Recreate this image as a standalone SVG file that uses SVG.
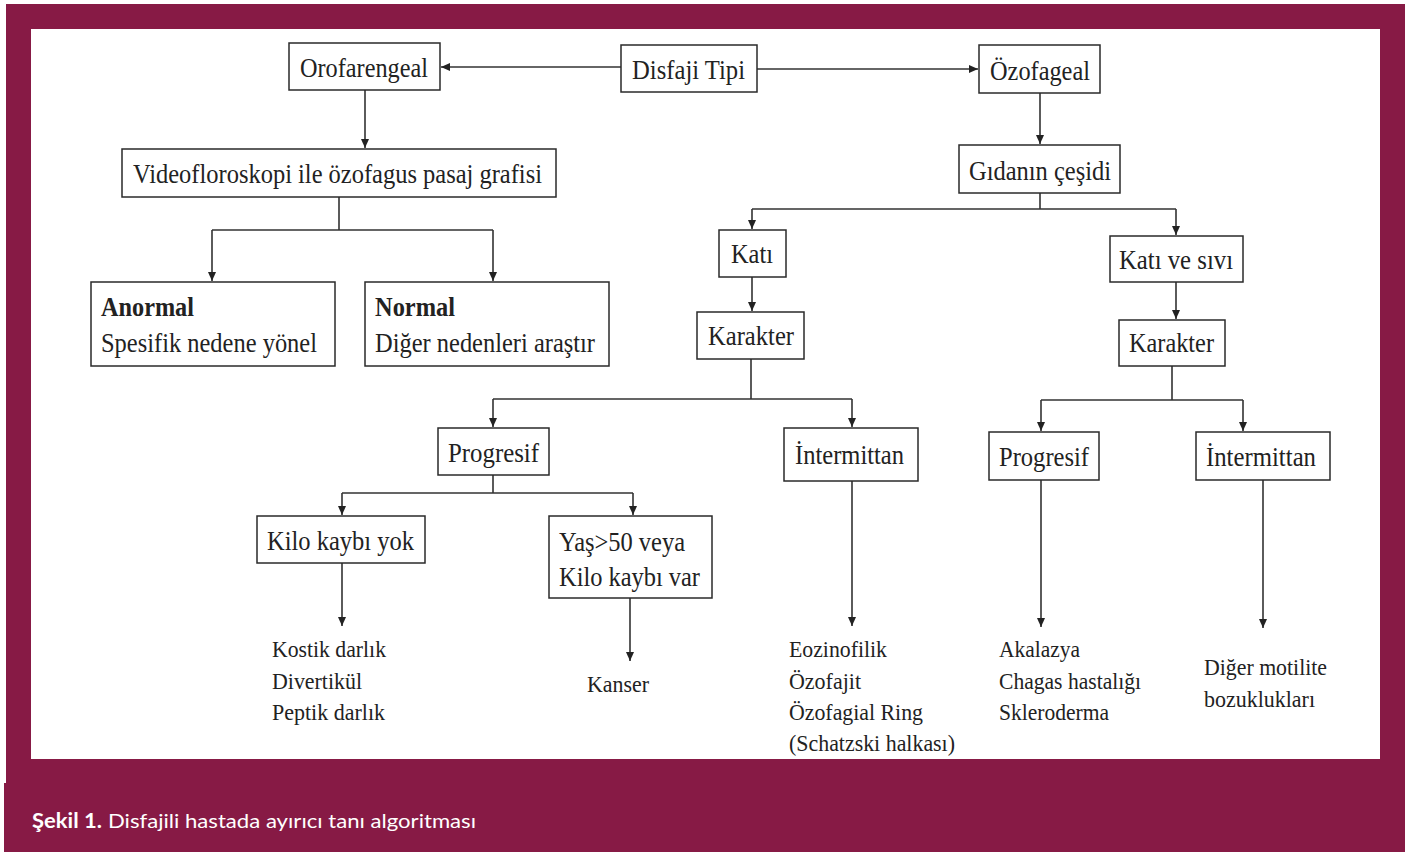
<svg xmlns="http://www.w3.org/2000/svg" width="1418" height="852" viewBox="0 0 1418 852">
  <style>
    .frame { fill: #871a45; }
    .box { fill: #ffffff; stroke: #2a2a2a; stroke-width: 1.5; }
    .t { font-family: "Liberation Serif", "Times New Roman", serif; font-size: 28px; fill: #222222; }
    .b { font-weight: bold; }
    .l { font-family: "Liberation Serif", "Times New Roman", serif; font-size: 24px; fill: #222222; }
    .c { fill: none; stroke: #333333; stroke-width: 1.6; }
    .cap { font-family: Lato, "Open Sans", "Liberation Sans", sans-serif; font-size: 20px; fill: #ffffff; }
  </style>
  <defs>
    <marker id="ah" markerUnits="userSpaceOnUse" markerWidth="10" markerHeight="8" refX="9" refY="4" orient="auto">
      <path d="M0,0 L9,4 L0,8 z" fill="#222222"/>
    </marker>
  </defs>

  <!-- page background and maroon frame -->
  <rect width="1418" height="852" fill="#ffffff"/>
  <rect class="frame" x="6" y="4" width="1399" height="848"/>
  <rect class="frame" x="4" y="783" width="1401" height="69"/>
  <rect x="31" y="29" width="1349" height="730" fill="#ffffff"/>

  <!-- caption -->
  <text class="cap" x="32" y="828"><tspan font-weight="bold" textLength="70" lengthAdjust="spacingAndGlyphs">Şekil 1.</tspan></text>
  <text class="cap" x="108" y="828" textLength="368" lengthAdjust="spacingAndGlyphs">Disfajili hastada ayırıcı tanı algoritması</text>

  <!-- connectors -->
  <g id="connectors">
    <line class="c" x1="621" y1="67" x2="441" y2="67" marker-end="url(#ah)"/>
    <line class="c" x1="757" y1="69" x2="978" y2="69" marker-end="url(#ah)"/>
    <line class="c" x1="365" y1="90" x2="365" y2="148" marker-end="url(#ah)"/>
    <path class="c" d="M339,197 V230 M212,230 H493"/>
    <line class="c" x1="212" y1="230" x2="212" y2="281" marker-end="url(#ah)"/>
    <line class="c" x1="493" y1="230" x2="493" y2="281" marker-end="url(#ah)"/>
    <line class="c" x1="1040" y1="93" x2="1040" y2="144" marker-end="url(#ah)"/>
    <path class="c" d="M1040,193 V209 M752,209 H1176"/>
    <line class="c" x1="752" y1="209" x2="752" y2="229" marker-end="url(#ah)"/>
    <line class="c" x1="1176" y1="209" x2="1176" y2="235" marker-end="url(#ah)"/>
    <line class="c" x1="752" y1="277" x2="752" y2="311" marker-end="url(#ah)"/>
    <line class="c" x1="1176" y1="282" x2="1176" y2="319" marker-end="url(#ah)"/>
    <path class="c" d="M751,359 V399 M493,399 H852"/>
    <line class="c" x1="493" y1="399" x2="493" y2="427" marker-end="url(#ah)"/>
    <line class="c" x1="852" y1="399" x2="852" y2="427" marker-end="url(#ah)"/>
    <path class="c" d="M1172,366 V400 M1041,400 H1243"/>
    <line class="c" x1="1041" y1="400" x2="1041" y2="431" marker-end="url(#ah)"/>
    <line class="c" x1="1243" y1="400" x2="1243" y2="431" marker-end="url(#ah)"/>
    <path class="c" d="M493,475 V493 M342,493 H633"/>
    <line class="c" x1="342" y1="493" x2="342" y2="515" marker-end="url(#ah)"/>
    <line class="c" x1="633" y1="493" x2="633" y2="515" marker-end="url(#ah)"/>
    <line class="c" x1="342" y1="563" x2="342" y2="626" marker-end="url(#ah)"/>
    <line class="c" x1="630" y1="598" x2="630" y2="661" marker-end="url(#ah)"/>
    <line class="c" x1="852" y1="481" x2="852" y2="626" marker-end="url(#ah)"/>
    <line class="c" x1="1041" y1="480" x2="1041" y2="627" marker-end="url(#ah)"/>
    <line class="c" x1="1263" y1="480" x2="1263" y2="628" marker-end="url(#ah)"/>
  </g>

  <!-- nodes -->
  <g id="disfaji-tipi">
    <rect class="box" x="621" y="45" width="136" height="47"/>
    <text class="t" x="632" y="79" textLength="113" lengthAdjust="spacingAndGlyphs">Disfaji Tipi</text>
  </g>
  <g id="orofarengeal">
    <rect class="box" x="289" y="43" width="151" height="47"/>
    <text class="t" x="300" y="77" textLength="128" lengthAdjust="spacingAndGlyphs">Orofarengeal</text>
  </g>
  <g id="ozofageal">
    <rect class="box" x="979" y="45" width="121" height="48"/>
    <text class="t" x="990" y="80" textLength="100" lengthAdjust="spacingAndGlyphs">Özofageal</text>
  </g>
  <g id="videofloroskopi">
    <rect class="box" x="122" y="149" width="434" height="48"/>
    <text class="t" x="133" y="183" textLength="409" lengthAdjust="spacingAndGlyphs">Videofloroskopi ile özofagus pasaj grafisi</text>
  </g>
  <g id="anormal">
    <rect class="box" x="91" y="282" width="244" height="84"/>
    <text class="t b" x="101" y="316" textLength="93" lengthAdjust="spacingAndGlyphs">Anormal</text>
    <text class="t" x="101" y="352" textLength="216" lengthAdjust="spacingAndGlyphs">Spesifik nedene yönel</text>
  </g>
  <g id="normal">
    <rect class="box" x="365" y="282" width="244" height="84"/>
    <text class="t b" x="375" y="316" textLength="80" lengthAdjust="spacingAndGlyphs">Normal</text>
    <text class="t" x="375" y="352" textLength="220" lengthAdjust="spacingAndGlyphs">Diğer nedenleri araştır</text>
  </g>
  <g id="gidanin-cesidi">
    <rect class="box" x="959" y="145" width="161" height="48"/>
    <text class="t" x="969" y="180" textLength="142" lengthAdjust="spacingAndGlyphs">Gıdanın çeşidi</text>
  </g>
  <g id="kati">
    <rect class="box" x="719" y="230" width="67" height="47"/>
    <text class="t" x="731" y="263" textLength="42" lengthAdjust="spacingAndGlyphs">Katı</text>
  </g>
  <g id="kati-ve-sivi">
    <rect class="box" x="1110" y="236" width="133" height="46"/>
    <text class="t" x="1119" y="269" textLength="114" lengthAdjust="spacingAndGlyphs">Katı ve sıvı</text>
  </g>
  <g id="karakter-kati">
    <rect class="box" x="697" y="312" width="107" height="47"/>
    <text class="t" x="708" y="345" textLength="86" lengthAdjust="spacingAndGlyphs">Karakter</text>
  </g>
  <g id="karakter-kati-sivi">
    <rect class="box" x="1119" y="320" width="106" height="46"/>
    <text class="t" x="1129" y="352" textLength="85" lengthAdjust="spacingAndGlyphs">Karakter</text>
  </g>
  <g id="progresif-kati">
    <rect class="box" x="438" y="428" width="111" height="47"/>
    <text class="t" x="448" y="462" textLength="91" lengthAdjust="spacingAndGlyphs">Progresif</text>
  </g>
  <g id="intermittan-kati">
    <rect class="box" x="784" y="428" width="134" height="53"/>
    <text class="t" x="795" y="464" textLength="109" lengthAdjust="spacingAndGlyphs">İntermittan</text>
  </g>
  <g id="progresif-kati-sivi">
    <rect class="box" x="989" y="432" width="110" height="48"/>
    <text class="t" x="999" y="466" textLength="90" lengthAdjust="spacingAndGlyphs">Progresif</text>
  </g>
  <g id="intermittan-kati-sivi">
    <rect class="box" x="1196" y="432" width="134" height="48"/>
    <text class="t" x="1206" y="466" textLength="110" lengthAdjust="spacingAndGlyphs">İntermittan</text>
  </g>
  <g id="kilo-kaybi-yok">
    <rect class="box" x="257" y="516" width="168" height="47"/>
    <text class="t" x="267" y="550" textLength="147" lengthAdjust="spacingAndGlyphs">Kilo kaybı yok</text>
  </g>
  <g id="yas-kilo-kaybi-var">
    <rect class="box" x="549" y="516" width="163" height="82"/>
    <text class="t" x="559" y="551" textLength="126" lengthAdjust="spacingAndGlyphs">Yaş&gt;50 veya</text>
    <text class="t" x="559" y="586" textLength="141" lengthAdjust="spacingAndGlyphs">Kilo kaybı var</text>
  </g>

  <!-- outcome labels -->
  <g id="sonuc-kilo-kaybi-yok">
    <text class="l" x="272" y="657" textLength="114" lengthAdjust="spacingAndGlyphs">Kostik darlık</text>
    <text class="l" x="272" y="689" textLength="90" lengthAdjust="spacingAndGlyphs">Divertikül</text>
    <text class="l" x="272" y="720" textLength="113" lengthAdjust="spacingAndGlyphs">Peptik darlık</text>
  </g>
  <g id="sonuc-kanser">
    <text class="l" x="587" y="692" textLength="62" lengthAdjust="spacingAndGlyphs">Kanser</text>
  </g>
  <g id="sonuc-intermittan-kati">
    <text class="l" x="789" y="657" textLength="98" lengthAdjust="spacingAndGlyphs">Eozinofilik</text>
    <text class="l" x="789" y="689" textLength="72" lengthAdjust="spacingAndGlyphs">Özofajit</text>
    <text class="l" x="789" y="720" textLength="134" lengthAdjust="spacingAndGlyphs">Özofagial Ring</text>
    <text class="l" x="789" y="751" textLength="166" lengthAdjust="spacingAndGlyphs">(Schatzski halkası)</text>
  </g>
  <g id="sonuc-progresif-kati-sivi">
    <text class="l" x="999" y="657" textLength="81" lengthAdjust="spacingAndGlyphs">Akalazya</text>
    <text class="l" x="999" y="689" textLength="142" lengthAdjust="spacingAndGlyphs">Chagas hastalığı</text>
    <text class="l" x="999" y="720" textLength="110" lengthAdjust="spacingAndGlyphs">Skleroderma</text>
  </g>
  <g id="sonuc-intermittan-kati-sivi">
    <text class="l" x="1204" y="675" textLength="123" lengthAdjust="spacingAndGlyphs">Diğer motilite</text>
    <text class="l" x="1204" y="707" textLength="111" lengthAdjust="spacingAndGlyphs">bozuklukları</text>
  </g>
</svg>
